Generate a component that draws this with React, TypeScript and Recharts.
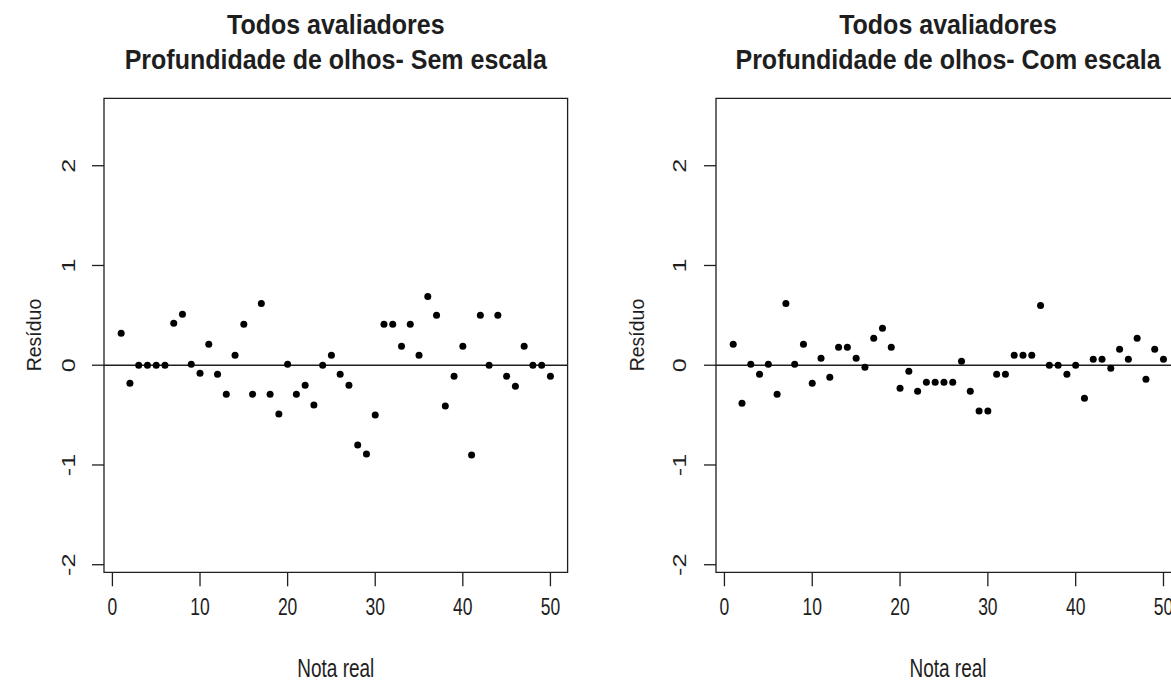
import React from "react";
import {
  ScatterChart,
  Scatter,
  XAxis,
  YAxis,
  ReferenceLine,
  ReferenceArea,
} from "recharts";

const notaReal = [
  1, 2, 3, 4, 5, 6, 7, 8, 9, 10, 11, 12, 13, 14, 15, 16, 17, 18, 19, 20, 21,
  22, 23, 24, 25, 26, 27, 28, 29, 30, 31, 32, 33, 34, 35, 36, 37, 38, 39, 40,
  41, 42, 43, 44, 45, 46, 47, 48, 49, 50,
];

const residuoSemEscala = [
  0.32, -0.18, 0, 0, 0, 0, 0.42, 0.51, 0.01, -0.08, 0.21, -0.09, -0.29, 0.1,
  0.41, -0.29, 0.62, -0.29, -0.49, 0.01, -0.29, -0.2, -0.4, 0, 0.1, -0.09, -0.2,
  -0.8, -0.89, -0.5, 0.41, 0.41, 0.19, 0.41, 0.1, 0.69, 0.5, -0.41, -0.11, 0.19,
  -0.9, 0.5, 0, 0.5, -0.11, -0.21, 0.19, 0, 0, -0.11,
];

const residuoComEscala = [
  0.21, -0.38, 0.01, -0.09, 0.01, -0.29, 0.62, 0.01, 0.21, -0.18, 0.07, -0.12,
  0.18, 0.18, 0.07, -0.02, 0.27, 0.37, 0.18, -0.23, -0.06, -0.26, -0.17, -0.17,
  -0.17, -0.17, 0.04, -0.26, -0.46, -0.46, -0.09, -0.09, 0.1, 0.1, 0.1, 0.6, 0,
  0, -0.09, 0, -0.33, 0.06, 0.06, -0.03, 0.16, 0.06, 0.27, -0.14, 0.16, 0.06,
];

const xTicks = [0, 10, 20, 30, 40, 50];
const yTicks = [-2, -1, 0, 1, 2];
const xDomain = [-0.96, 51.96];
const yDomain = [-2.076, 2.676];

const titulo1 = "Todos avaliadores";
const tituloSem = "Profundidade de olhos- Sem escala";
const tituloCom = "Profundidade de olhos- Com escala";

const FONT = "'Liberation Sans', Arial, sans-serif";
const INK = "#1e1e1e";
const BOX_TOP = 98.3;
const BOX_BOTTOM = 572.3;
const H = 695;
// the picture's lettering is taller than it is wide
const STRETCH = 1.4;

const Dot = (props: any) => {
  const { cx, cy } = props;
  if (cx == null || cy == null) return null;
  return <circle cx={cx} cy={cy} r={3.5} fill="#000" />;
};

const XTick = (props: any) => {
  const { x, payload } = props;
  return (
    <g>
      <line x1={x} x2={x} y1={BOX_BOTTOM} y2={BOX_BOTTOM + 14} stroke={INK} strokeWidth={1.3} />
      <text
        transform={`translate(${x}, 607) scale(1, ${STRETCH})`}
        textAnchor="middle"
        dominantBaseline="central"
        fontFamily={FONT}
        fontSize={17.5}
        fill={INK}
      >
        {payload.value}
      </text>
    </g>
  );
};

const makeYTick = (boxLeft: number, labelX: number) => (props: any) => {
  const { y, payload } = props;
  return (
    <g>
      <line x1={boxLeft - 12} x2={boxLeft} y1={y} y2={y} stroke={INK} strokeWidth={1.3} />
      <text
        transform={`translate(${labelX}, ${y}) scale(1, ${STRETCH}) rotate(-90)`}
        textAnchor="middle"
        dominantBaseline="central"
        fontFamily={FONT}
        fontSize={18}
        fill={INK}
      >
        {payload.value}
      </text>
    </g>
  );
};

interface PainelProps {
  left: number;
  width: number;
  boxLeft: number;
  boxRight: number;
  labelX: number;
  residuos: number[];
}

function Painel({ left, width, boxLeft, boxRight, labelX, residuos }: PainelProps) {
  const data = notaReal.map((x, i) => ({ x, y: residuos[i] }));
  const yAxisW = 60;
  return (
    <div style={{ position: "absolute", left, top: 0 }}>
      <ScatterChart
        width={width}
        height={H}
        margin={{
          top: BOX_TOP,
          bottom: H - BOX_BOTTOM - 30,
          left: boxLeft - left - yAxisW,
          right: width - (boxRight - left),
        }}
      >
        <XAxis
          type="number"
          dataKey="x"
          domain={xDomain}
          ticks={xTicks}
          allowDataOverflow
          axisLine={false}
          tickLine={false}
          height={30}
          tick={(p: any) => <XTick {...p} />}
        />
        <YAxis
          type="number"
          dataKey="y"
          domain={yDomain}
          ticks={yTicks}
          allowDataOverflow
          axisLine={false}
          tickLine={false}
          width={yAxisW}
          tick={makeYTick(boxLeft - left, labelX - left)}
        />
        <ReferenceArea
          x1={xDomain[0]}
          x2={xDomain[1]}
          y1={yDomain[0]}
          y2={yDomain[1]}
          fill="none"
          stroke={INK}
          strokeWidth={1.3}
          ifOverflow="visible"
        />
        <ReferenceLine y={0} stroke={INK} strokeWidth={1.5} />
        <Scatter data={data} shape={<Dot />} isAnimationActive={false} />
      </ScatterChart>
    </div>
  );
}

const textBase: React.CSSProperties = {
  position: "absolute",
  fontFamily: FONT,
  color: INK,
  whiteSpace: "nowrap",
  lineHeight: 1,
};

function Titulo({ cx, linha2 }: { cx: number; linha2: string }) {
  const t: React.CSSProperties = {
    ...textBase,
    left: cx,
    transform: "translate(-50%, -50%) scale(1, 1.1)",
    fontWeight: "bold",
    fontSize: 25,
  };
  return (
    <>
      <div style={{ ...t, top: 25 }}>{titulo1}</div>
      <div style={{ ...t, top: 60 }}>{linha2}</div>
    </>
  );
}

function RotuloX({ cx }: { cx: number }) {
  return (
    <div style={{ ...textBase, left: cx, top: 668, transform: `translate(-50%, -50%) scale(1, ${STRETCH})`, fontSize: 19 }}>
      Nota real
    </div>
  );
}

function RotuloY({ cx }: { cx: number }) {
  return (
    <div style={{ ...textBase, left: cx, top: 335, transform: "translate(-50%, -50%) rotate(-90deg)", fontSize: 19.5 }}>
      Resíduo
    </div>
  );
}

export default function App() {
  return (
    <div
      style={{
        position: "absolute",
        left: 0,
        top: 0,
        width: 1171,
        height: H,
        overflow: "hidden",
        background: "#fff",
      }}
    >
      <Painel left={0} width={585} boxLeft={104} boxRight={567.6} labelX={69} residuos={residuoSemEscala} />
      <Painel left={600} width={620} boxLeft={716} boxRight={1180.7} labelX={680} residuos={residuoComEscala} />
      <Titulo cx={335.8} linha2={tituloSem} />
      <Titulo cx={948} linha2={tituloCom} />
      <RotuloX cx={335.8} />
      <RotuloX cx={948} />
      <RotuloY cx={35} />
      <RotuloY cx={638} />
    </div>
  );
}
